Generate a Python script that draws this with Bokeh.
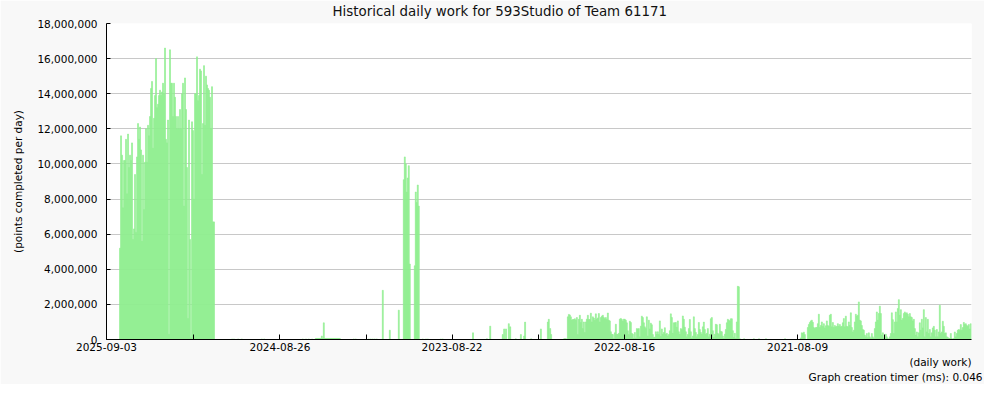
import pandas as pd
from bokeh.plotting import figure
from bokeh.models import Range1d, FixedTicker, NumeralTickFormatter, Title
from bokeh.embed import file_html
from bokeh.resources import INLINE

TITLE = "Historical daily work for 593Studio of Team 61171"
Y_LABEL = "(points completed per day)"
X_LABEL = "(daily work)"
FOOTER = "Graph creation timer (ms): 0.046"

LATEST = "2025-09-03"
TICK_DATES = ["2025-09-03", "2024-08-26", "2023-08-22", "2022-08-16", "2021-08-09"]
SPAN_DAYS = 1860          # days shown, counted back from LATEST
BIN_DAYS = 2.15           # each bar sums about 2.15 days
Y_MAX = 18_000_000
Y_STEP = 2_000_000

# values in millions of points, one per bin, starting N days before LATEST
SEG_A_START = 28
SEG_A = [
    5.2, 11.6, 10.5, 7.5, 10.2, 10.2, 11.4, 8.3, 11.7, 9.8,
    10.5, 10.2, 11.2, 5.7, 6.3, 9.4, 6.1, 10.4, 12.3, 11.4,
    12.1, 10.8, 5.6, 10.5, 7.4, 10.1, 12.0, 10.1, 12.2, 11.6,
    12.7, 14.3, 14.7, 10.9, 12.6, 13.9, 16.0, 13.2, 13.4, 13.9,
    14.2, 13.9, 14.1, 14.6, 14.0, 16.6, 11.4, 11.2, 12.5, 0.3,
    16.5, 14.6, 14.6, 12.7, 14.6, 13.8, 12.7, 12.0, 12.7, 12.0,
    13.1, 12.0, 14.0, 14.6, 7.6, 14.9, 13.1, 9.8, 1.2, 12.5,
    5.7, 0.1, 12.4, 11.9, 8.0, 14.0, 14.0, 16.1, 13.6, 13.9,
    15.4, 15.3, 9.4, 12.3, 15.6, 12.2, 15.0, 14.5, 14.3, 14.2,
    13.8, 12.0, 14.4, 6.7, 6.7,
]

SEG_B_START = 449
SEG_B = [
    0.06, 0.06, 0.06, 0.06, 0.06, 0.06, 0.2, 0.06, 0.95, 0.06,
    0.06, 0.06, 0.06, 0.06, 0.06, 0.06, 0.06, 0.06, 0.06, 0.06,
    0.06, 0.06, 0.06, 0.06, 0.06, 0, 0, 0, 0, 0,
    0, 0, 0, 0, 0, 0, 0, 0, 0.03, 0,
    0.03, 0, 0, 0, 0, 0, 0, 0, 0, 0,
    0, 0, 0, 0.03, 0, 0.03, 0, 0.03, 0, 0.03,
    0, 0.03, 0, 0, 0, 0, 0, 2.8, 0, 0,
    0, 0, 0, 0, 0.53, 0, 0, 0, 0, 0,
    0, 0, 0, 1.67, 0, 0, 0, 0, 9.1, 10.4,
    10.0, 8.4, 9.2, 9.9, 4.3, 0, 0, 0, 0, 4.2,
    8.4, 7.8, 8.8, 7.6,
]

SEG_D_START = 991
SEG_D = [
    1.29, 1.43, 1.40, 1.29, 1.10, 1.14, 1.14, 1.18, 1.10, 1.25,
    0.28, 1.15, 1.38, 0.97, 1.15, 0.62, 1.00, 0.40, 1.00, 1.16,
    1.38, 1.14, 1.14, 1.50, 1.00, 1.29, 1.22, 1.10, 1.46, 1.15,
    1.23, 1.48, 1.00, 1.25, 1.33, 1.38, 1.25, 1.18, 1.25, 1.14,
    1.51, 1.10, 1.06, 0.44, 0.30, 0.28, 0.04, 0.38, 0.87, 0.30,
    0.28, 0.35, 1.16, 1.20, 1.14, 1.04, 1.16, 1.15, 1.10, 0.95,
    0.50, 0.28, 1.04, 0.97, 0.35, 0.30, 0.06, 0.40, 0.08, 0.62,
    0.60, 0.62, 0.15, 0.76, 1.33, 1.25, 0.95, 0.72, 0.62, 1.29,
    0.20, 1.10, 0.60, 0.93, 0.84, 0.28, 0.12, 0.14, 0.44, 0.30,
    0.44, 0.28, 1.06, 0.18, 0.60, 0.30, 0.40, 0.67, 0.28, 0.35,
    0.20, 0.28, 0.50, 1.46, 1.25, 0.35, 0.95, 0.95, 0.97, 0.70,
    1.06, 0.44, 0.30, 0.62, 0.57, 1.34, 1.15, 0.70, 0.44, 0.15,
    0.28, 0.62, 1.14, 0.44, 0.08, 0.20, 1.29, 0.62, 0.40, 0.15,
    0.28, 0.97, 0.57, 0.40, 0.30, 0.72, 0.99, 0.57, 0.28, 0.35,
    0.62, 0.15, 0.30, 1.18, 1.25, 0.50, 0.12, 0.30, 0.87, 0.84,
    0.35, 0.28, 0.87, 0.46, 0.44, 0.20, 0.06, 0.30, 0.57, 0.95,
    1.15, 1.10, 1.06, 1.18, 1.18, 0.50, 0.12, 0.35, 0.06, 1.00,
    3.03, 3.00, 0.04,
]

SEG_E_START = 1492
SEG_E = [
    0.09, 0.38, 0.35, 0.42, 0.28, 0.00, 0.00, 0.68, 0.85, 0.97,
    1.06, 1.10, 0.98, 0.68, 0.62, 0.68, 0.68, 0.90, 1.44, 0.68,
    0.80, 1.00, 0.75, 0.90, 0.66, 0.78, 1.06, 0.80, 0.75, 1.38,
    1.44, 0.72, 0.97, 0.68, 0.80, 0.72, 0.75, 0.90, 0.75, 0.85,
    0.72, 0.75, 0.95, 1.19, 0.72, 1.33, 0.75, 0.72, 1.00, 0.80,
    1.52, 0.68, 0.43, 0.53, 1.00, 1.44, 1.33, 1.38, 2.14, 1.10,
    1.06, 0.80, 0.57, 0.53, 0.25, 0.15, 0.34, 0.12, 0.38, 0.15,
    0.06, 0.34, 0.15, 0.06, 0.62, 1.00, 1.57, 1.10, 1.48, 1.90,
    1.48, 0.25, 0.38, 0.09, 0.00, 0.30, 0.15, 0.06, 0.00, 0.15,
    0.34, 1.52, 1.13, 0.34, 1.00, 1.57, 1.00, 1.76, 2.27, 1.38,
    1.70, 1.10, 1.20, 1.48, 1.57, 1.48, 1.52, 1.44, 1.29, 1.48,
    1.29, 1.25, 1.06, 1.15, 0.62, 0.25, 0.43, 0.15, 0.38, 0.95,
    0.53, 1.15, 0.66, 1.70, 0.15, 1.25, 0.43, 1.15, 0.34, 0.57,
    0.15, 0.38, 0.66, 0.75, 0.53, 0.15, 0.57, 0.15, 0.43, 1.95,
    0.34, 0.43, 1.04, 0.75, 0.34, 0.38, 0.15, 0.12, 0.06, 0.06,
    0.34, 0.06, 0.00, 0.06, 0.43, 0.15, 0.34, 0.53, 0.57, 0.53,
    0.85, 0.53, 0.68, 0.97, 0.85, 0.90, 0.80, 0.75, 0.85, 0.60,
    0.90,
]

# isolated days (days before LATEST) and their values in millions
SPIKE_DAYS_AGO = [269, 273, 282, 290, 333, 338, 421, 428, 434, 441,
                  679, 686, 690, 718, 722, 787, 817, 824, 851, 854,
                  858, 864, 867, 879, 890, 897, 899, 912, 933, 948,
                  950, 953, 955, 983, 985, 987, 1370, 1391, 1402, 1417, 1458]
SPIKE_VALUES = [0.03, 0.03, 0.03, 0.03, 0.03, 0.03, 0.03, 0.03, 0.03, 0.03,
                0.03, 0.03, 0.03, 0.03, 0.03, 0.38, 0.04, 0.76, 0.28, 0.60,
                0.60, 0.90, 0.72, 0.04, 0.28, 0.20, 0.99, 0.04, 0.60, 0.99,
                1.15, 0.62, 0.28, 0.04, 0.04, 0.04, 0.04, 0.04, 0.04, 0.04, 0.04]

FONT = "DejaVu Sans"
BAR_COLOR = "#90ee90"
GRID_COLOR = "#c8c8c8"
BG = "#f8f8f8"

xs, tops = [], []
for start, vals in ((SEG_A_START, SEG_A), (SEG_B_START, SEG_B),
                    (SEG_D_START, SEG_D), (SEG_E_START, SEG_E)):
    for i, v in enumerate(vals):
        xs.append(start + (i + 0.5) * BIN_DAYS)
        tops.append(v * 1e6)
for d, v in zip(SPIKE_DAYS_AGO, SPIKE_VALUES):
    xs.append(d + 0.5 * BIN_DAYS)
    tops.append(v * 1e6)

p = figure(width=984, height=384, output_backend="svg", toolbar_location=None,
           x_range=Range1d(0, SPAN_DAYS), y_range=Range1d(0, Y_MAX),
           min_border_left=106, min_border_right=13, min_border_top=23,
           min_border_bottom=45)
p.background_fill_color = "white"
p.border_fill_color = BG
p.outline_line_color = None

p.title.text = TITLE
p.title.align = "left"
p.title.offset = 226
p.title.vertical_align = "top"
p.title.text_font = FONT
p.title.text_font_size = "13.4px"
p.title.text_font_style = "normal"
p.title.text_color = "#111111"
p.title.standoff = 6

p.vbar(x=xs, width=BIN_DAYS, top=tops, bottom=0,
       fill_color=BAR_COLOR, line_color=BAR_COLOR, line_width=0.6)

# x axis: days back from LATEST, labelled with dates
latest = pd.Timestamp(LATEST)
label_days = [(latest - pd.Timestamp(d)).days for d in TICK_DATES]
mid_days = [round((a + b) / 2) for a, b in zip(label_days[:-1], label_days[1:])]
mid_days.append(round(label_days[-1] + (label_days[-1] - label_days[-2]) / 2))
overrides = {d: t for d, t in zip(label_days, TICK_DATES)}
for d in mid_days:
    overrides[d] = ""
p.xaxis.ticker = FixedTicker(ticks=sorted(label_days + mid_days))
p.xaxis.major_label_overrides = overrides
p.xaxis.minor_tick_line_color = None
p.xaxis.major_tick_in = 5
p.xaxis.major_tick_out = 0
p.xaxis.major_label_standoff = 3
p.xgrid.grid_line_color = None

p.yaxis.ticker = FixedTicker(ticks=list(range(0, Y_MAX + 1, Y_STEP)))
p.yaxis.formatter = NumeralTickFormatter(format="0,0")
p.yaxis.minor_tick_line_color = None
p.yaxis.major_tick_in = 4
p.yaxis.major_tick_out = 0
p.yaxis.major_label_standoff = 9
p.yaxis.axis_label = Y_LABEL
p.yaxis.axis_label_standoff = 10
p.ygrid.grid_line_color = GRID_COLOR

for ax in (p.xaxis, p.yaxis):
    ax.axis_line_color = "black"
    ax.major_tick_line_color = "black"
    ax.major_label_text_font = FONT
    ax.major_label_text_font_size = "10.5px"
    ax.major_label_text_color = "black"
    ax.axis_label_text_font = FONT
    ax.axis_label_text_font_size = "10.5px"
    ax.axis_label_text_font_style = "normal"
    ax.axis_label_text_color = "black"

p.add_layout(Title(text=X_LABEL, align="right", text_font=FONT, text_font_size="10.5px",
                   text_font_style="normal", text_color="black", standoff=0), "below")
p.add_layout(Title(text=FOOTER, align="right", text_font=FONT, text_font_size="10.5px",
                   text_font_style="normal", text_color="black", standoff=3, offset=-11), "below")

open("out.html", "w").write(file_html(p, INLINE))
